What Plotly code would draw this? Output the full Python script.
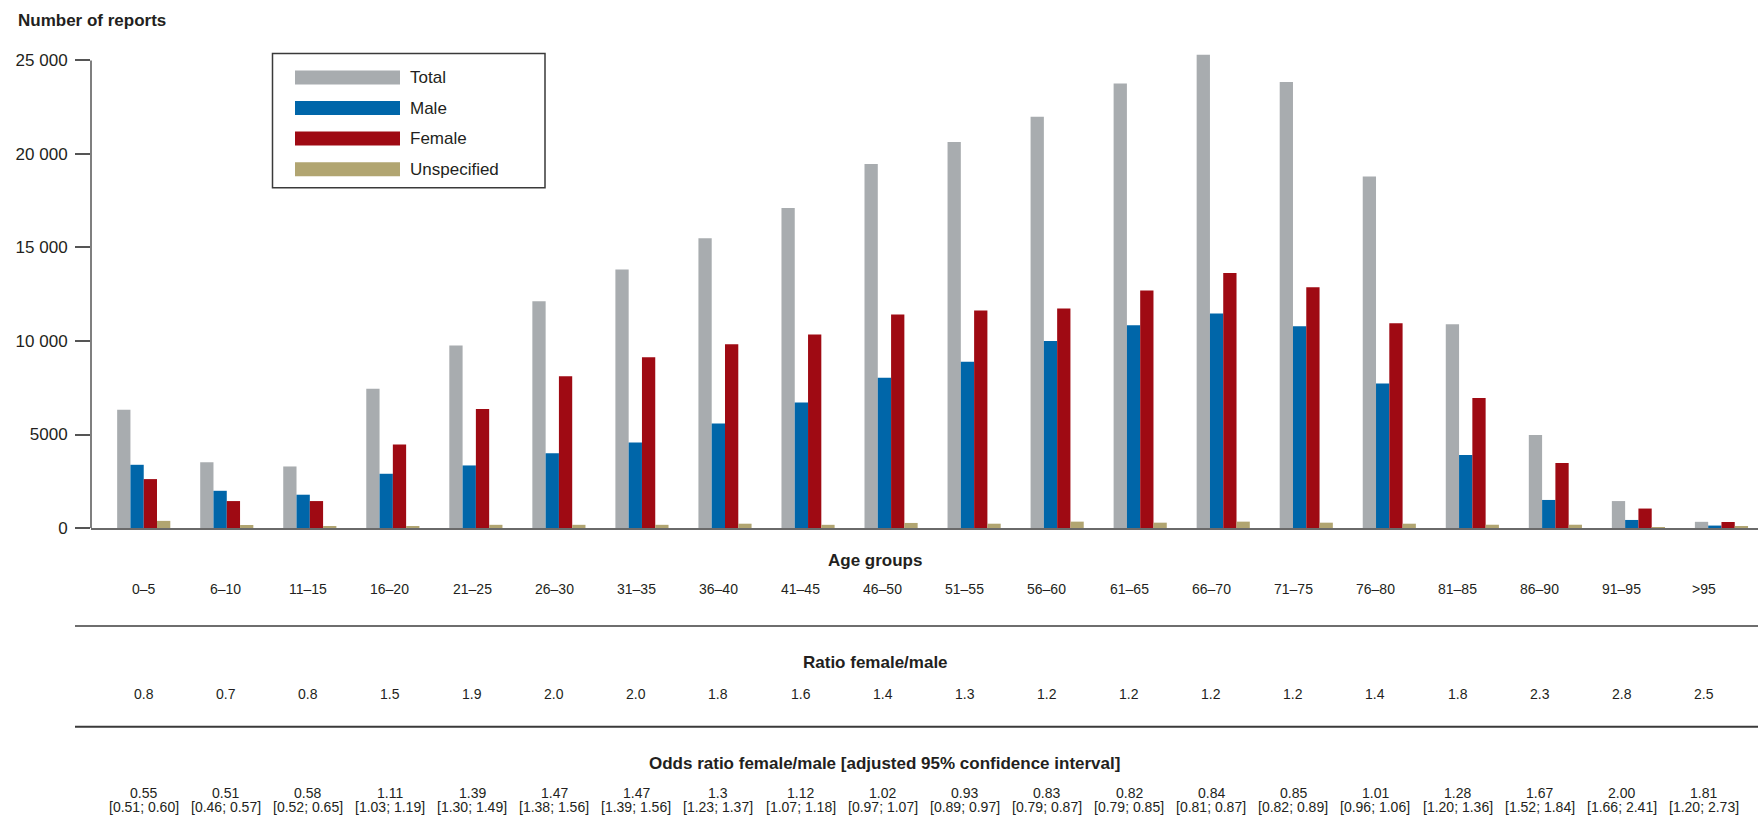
import plotly.graph_objects as go

# Age groups and report counts per sex
age_groups = ["0–5", "6–10", "11–15", "16–20", "21–25", "26–30", "31–35", "36–40",
              "41–45", "46–50", "51–55", "56–60", "61–65", "66–70", "71–75", "76–80",
              "81–85", "86–90", "91–95", ">95"]

total = [6320, 3520, 3290, 7440, 9760, 12130, 13820, 15490, 17110, 19460,
         20640, 21990, 23770, 25300, 23850, 18790, 10900, 4970, 1440, 330]
male = [3380, 1990, 1780, 2900, 3345, 4000, 4570, 5590, 6710, 8030,
        8885, 10005, 10845, 11470, 10790, 7725, 3900, 1500, 430, 130]
female = [2615, 1440, 1440, 4465, 6370, 8115, 9130, 9830, 10345, 11415,
          11630, 11735, 12700, 13640, 12875, 10950, 6945, 3470, 1040, 320]
unspecified = [380, 160, 100, 100, 170, 170, 170, 230, 170, 270,
               230, 340, 285, 340, 285, 230, 175, 175, 20, 90]

ratio_fm = ["0.8", "0.7", "0.8", "1.5", "1.9", "2.0", "2.0", "1.8", "1.6", "1.4",
            "1.3", "1.2", "1.2", "1.2", "1.2", "1.4", "1.8", "2.3", "2.8", "2.5"]
odds_ratio = ["0.55", "0.51", "0.58", "1.11", "1.39", "1.47", "1.47", "1.3", "1.12", "1.02",
              "0.93", "0.83", "0.82", "0.84", "0.85", "1.01", "1.28", "1.67", "2.00", "1.81"]
odds_ci = ["[0.51; 0.60]", "[0.46; 0.57]", "[0.52; 0.65]", "[1.03; 1.19]", "[1.30; 1.49]",
           "[1.38; 1.56]", "[1.39; 1.56]", "[1.23; 1.37]", "[1.07; 1.18]", "[0.97; 1.07]",
           "[0.89; 0.97]", "[0.79; 0.87]", "[0.79; 0.85]", "[0.81; 0.87]", "[0.82; 0.89]",
           "[0.96; 1.06]", "[1.20; 1.36]", "[1.52; 1.84]", "[1.66; 2.41]", "[1.20; 2.73]"]

series_names = ["Total", "Male", "Female", "Unspecified"]
series_values = [total, male, female, unspecified]
series_colors = ["#A8ACAF", "#0066A9", "#9F0A13", "#B1A571"]

y_tick_vals = [0, 5000, 10000, 15000, 20000, 25000]
y_tick_text = ["0", "5000", "10 000", "15 000", "20 000", "25 000"]
Y_MAX_TICK = 25000
Y_TOP = 25400  # headroom so the tallest bar is not cut off

W, H = 1758, 830
BASE = 528            # pixel row of the zero line
TICK_TOP = 60         # pixel row of the top tick
L, R, B = 91, 0, H - BASE
PX_PER_UNIT = (BASE - TICK_TOP) / Y_MAX_TICK
T = BASE - Y_TOP * PX_PER_UNIT
PW, PH = W - L - R, BASE - T

TEXT = "#231F20"
FONT = "Liberation Sans, Arial, sans-serif"


def px(x):
    return (x - L) / PW


def py(y):
    return (BASE - y) / PH


fig = go.Figure()
for name, vals, col in zip(series_names, series_values, series_colors):
    fig.add_trace(go.Bar(x=age_groups, y=vals, name=name, marker_color=col,
                         marker_line_width=0, showlegend=False))

annotations = []
shapes = []

# vertical axis line, running from zero up to the top tick only
shapes.append(dict(type="line", xref="paper", yref="y", x0=0, x1=0, y0=0, y1=Y_MAX_TICK,
                   line=dict(color="#555555", width=1.5)))

# axis title
annotations.append(dict(x=px(16), y=py(20), xref="paper", yref="paper", xanchor="left",
                        yanchor="middle", text="<b>Number of reports</b>", showarrow=False,
                        font=dict(family=FONT, size=17, color=TEXT)))

# legend box
shapes.append(dict(type="rect", xref="paper", yref="paper", x0=px(272.5), x1=px(545),
                   y0=py(53), y1=py(187.5), line=dict(color="#3a3a3a", width=1.5),
                   fillcolor="white", layer="above"))
for i, (name, col) in enumerate(zip(series_names, series_colors)):
    cy = 77 + i * 30.6
    shapes.append(dict(type="rect", xref="paper", yref="paper", x0=px(295), x1=px(400),
                       y0=py(cy - 7), y1=py(cy + 7), line=dict(width=0), fillcolor=col,
                       layer="above"))
    annotations.append(dict(x=px(408), y=py(cy), xref="paper", yref="paper",
                            xanchor="left", yanchor="middle", text=name, showarrow=False,
                            font=dict(family=FONT, size=17, color=TEXT)))

# table below the bars
titles = [("Age groups", 561, 875), ("Ratio female/male", 663, 875),
          ("Odds ratio female/male [adjusted 95% confidence interval]", 764, 884)]
for txt, yy, xx in titles:
    annotations.append(dict(x=px(xx), y=py(yy), xref="paper", yref="paper",
                            xanchor="center", yanchor="middle", text="<b>%s</b>" % txt,
                            showarrow=False, font=dict(family=FONT, size=17, color=TEXT)))

col_x = [143.5 + i * 82.13 for i in range(len(age_groups))]
rows = [(age_groups, 589), (ratio_fm, 694), (odds_ratio, 793), (odds_ci, 807.5)]
for labels, yy in rows:
    for xx, lab in zip(col_x, labels):
        annotations.append(dict(x=px(xx), y=py(yy), xref="paper", yref="paper",
                                xanchor="center", yanchor="middle", text=lab, showarrow=False,
                                font=dict(family=FONT, size=14, color=TEXT)))

for yy, col in [(626, "#6e6e6e"), (727, "#3a3a3a")]:
    shapes.append(dict(type="line", xref="paper", yref="paper", x0=px(75), x1=1,
                       y0=py(yy), y1=py(yy), line=dict(color=col, width=2)))

fig.update_layout(
    width=W, height=H,
    margin=dict(l=L, r=R, t=T, b=B, autoexpand=False),
    plot_bgcolor="white", paper_bgcolor="white",
    barmode="group", bargap=0.36, bargroupgap=0,
    showlegend=False,
    annotations=annotations, shapes=shapes,
    xaxis=dict(type="category", range=[-0.635, 19.44], showticklabels=False, ticks="",
               showline=True, linecolor="#6a6a6a", linewidth=2, showgrid=False,
               zeroline=False, fixedrange=True),
    yaxis=dict(range=[0, Y_TOP], tickvals=y_tick_vals, ticktext=y_tick_text,
               ticks="outside", ticklen=15, tickwidth=1.5, tickcolor="#555555",
               showline=False, showgrid=False, zeroline=False, ticklabelstandoff=4,
               tickfont=dict(family=FONT, size=17, color=TEXT), fixedrange=True),
)

fig.write_html("out.html", config={"displayModeBar": False})
